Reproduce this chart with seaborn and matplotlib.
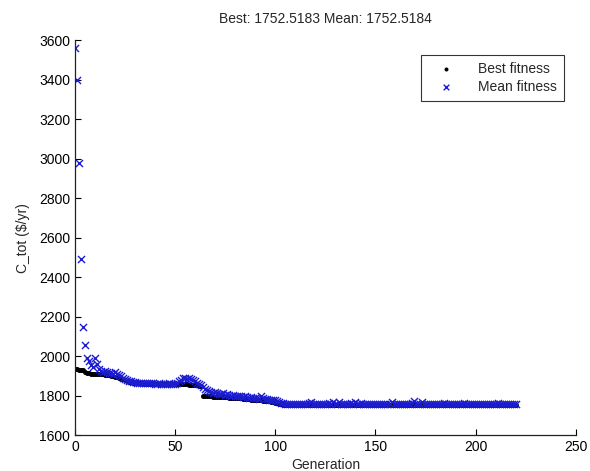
import numpy as np
import pandas as pd
import matplotlib
matplotlib.use("Agg")
import matplotlib.pyplot as plt
import seaborn as sns

sns.set_style("ticks")
plt.rcParams['font.family'] = ['Liberation Sans', 'DejaVu Sans']

# best fitness per generation (0..220)
best = [1934, 1933, 1932, 1930, 1928, 1920, 1915, 1913, 1912, 1912,
        1910, 1908, 1908, 1910, 1910, 1906, 1905, 1903, 1900, 1898,
        1896, 1893, 1890, 1886, 1882, 1878, 1874, 1870, 1868, 1866,
        1864, 1863, 1862, 1862, 1861, 1860, 1860, 1860, 1859, 1859,
        1859, 1858, 1858, 1858, 1858, 1858, 1858, 1857, 1857, 1857,
        1857, 1857, 1857, 1857, 1857, 1857, 1857, 1856, 1856, 1856,
        1855, 1852, 1850, 1848, 1800, 1799, 1798, 1797, 1796, 1795,
        1795, 1794, 1794, 1793, 1792, 1792, 1791, 1790, 1790, 1789,
        1788, 1788, 1787, 1786, 1785, 1784, 1782, 1781, 1780, 1780,
        1779, 1778, 1777, 1776, 1775, 1774, 1773, 1771, 1769, 1767,
        1764, 1761, 1758, 1756, 1755, 1755, 1755, 1754, 1754, 1754,
        1754, 1754, 1754, 1754, 1754, 1754, 1754, 1754, 1754, 1754,
        1754, 1754, 1754, 1754, 1753.8, 1753.8, 1753.8, 1753.8, 1753.8, 1753.8,
        1753.6, 1753.6, 1753.6, 1753.6, 1753.6, 1753.6, 1753.6, 1753.6, 1753.6, 1753.6,
        1753.4, 1753.4, 1753.4, 1753.4, 1753.4, 1753.4, 1753.4, 1753.4, 1753.2, 1753.2,
        1753.2, 1753.2, 1753.2, 1753.2, 1753.2, 1753.2, 1753.0, 1753.0, 1753.0, 1753.0,
        1753.0, 1753.0, 1753.0, 1753.0, 1753.0, 1753.0, 1752.9, 1752.9, 1752.9, 1752.9,
        1752.9, 1752.9, 1752.9, 1752.9, 1752.8, 1752.8, 1752.8, 1752.8, 1752.8, 1752.8,
        1752.8, 1752.8, 1752.7, 1752.7, 1752.7, 1752.7, 1752.7, 1752.7, 1752.7, 1752.7,
        1752.6, 1752.6, 1752.6, 1752.6, 1752.6, 1752.6, 1752.6, 1752.6, 1752.6, 1752.6,
        1752.5, 1752.5, 1752.5, 1752.5, 1752.5, 1752.5, 1752.5, 1752.5, 1752.5, 1752.5,
        1752.5, 1752.5, 1752.5, 1752.5, 1752.5, 1752.5, 1752.5, 1752.5, 1752.5, 1752.5,
        1752.5]

# mean fitness per generation (0..220)
mean = [3560, 3400, 2980, 2490, 2150, 2055, 1990, 1975, 1955, 1945,
        1990, 1960, 1935, 1925, 1920, 1925, 1920, 1915, 1915, 1910,
        1918, 1912, 1905, 1898, 1890, 1885, 1880, 1876, 1872, 1870,
        1868, 1866, 1866, 1865, 1864, 1863, 1863, 1862, 1862, 1862,
        1861, 1861, 1862, 1861, 1860, 1861, 1860, 1862, 1861, 1860,
        1861, 1865, 1872, 1880, 1888, 1890, 1886, 1890, 1884, 1878,
        1872, 1866, 1860, 1852, 1845, 1836, 1830, 1826, 1820, 1816,
        1818, 1812, 1810, 1808, 1812, 1806, 1808, 1804, 1800, 1802,
        1800, 1798, 1800, 1796, 1794, 1798, 1792, 1790, 1792, 1788,
        1786, 1788, 1784, 1800, 1786, 1782, 1784, 1780, 1778, 1776,
        1776, 1772, 1768, 1764, 1762, 1760, 1759, 1758, 1760, 1758,
        1757, 1759, 1758, 1757, 1760, 1758, 1757, 1762, 1770, 1759,
        1758, 1757, 1759, 1758, 1760, 1757, 1758, 1762, 1759, 1768,
        1758, 1757, 1766, 1758, 1757, 1759, 1758, 1757, 1762, 1758,
        1770, 1759, 1757, 1764, 1758, 1757, 1756, 1758, 1757, 1759,
        1756, 1757, 1758, 1756, 1760, 1757, 1756, 1758, 1768, 1757,
        1756, 1758, 1757, 1756, 1759, 1757, 1756, 1758, 1764, 1772,
        1757, 1756, 1758, 1766, 1757, 1756, 1757, 1758, 1756, 1757,
        1756, 1758, 1757, 1756, 1762, 1757, 1756, 1758, 1757, 1756,
        1757, 1758, 1756, 1757, 1764, 1756, 1757, 1758, 1756, 1757,
        1756, 1758, 1757, 1756, 1760, 1757, 1756, 1758, 1757, 1756,
        1757, 1763, 1756, 1757, 1758, 1756, 1757, 1756, 1758, 1757,
        1756]

gen = np.arange(len(best))
df = pd.DataFrame({'Generation': gen, 'best': best, 'mean': mean})

fig = plt.figure(figsize=(5.9, 4.71), dpi=100)
ax = fig.add_axes([0.127, 0.076, 0.849, 0.839])

sns.scatterplot(data=df, x='Generation', y='best', marker='o', s=13,
                color='black', edgecolor='black', linewidth=0,
                label='Best fitness', ax=ax)
sns.scatterplot(data=df, x='Generation', y='mean', marker='x', s=26,
                color='#1c1cd0', linewidth=1.0,
                label='Mean fitness', ax=ax)

ax.set_xlim(0, 250)
ax.set_ylim(1600, 3600)
ax.set_xticks([0, 50, 100, 150, 200, 250])
ax.set_yticks(np.arange(1600, 3601, 200))
ax.tick_params(direction='in', length=4, width=0.8, labelsize=10, colors='black')
sns.despine(ax=ax)
for s in ['left', 'bottom']:
    ax.spines[s].set_linewidth(0.9)
    ax.spines[s].set_color('#222222')

ax.set_xlabel('Generation', fontsize=10, labelpad=3)
ax.set_ylabel('C_tot ($/yr)', fontsize=10, labelpad=6)
ax.set_title('Best: 1752.5183 Mean: 1752.5184', fontsize=10, pad=12)

leg = ax.legend(loc='upper right', bbox_to_anchor=(0.99, 0.98), fontsize=10,
                frameon=True, fancybox=False, edgecolor='black',
                handletextpad=1.0, borderpad=0.5, labelspacing=0.3,
                handlelength=2.6, markerscale=0.8)
leg.get_frame().set_linewidth(0.8)

fig.savefig('out.png', dpi=100)
